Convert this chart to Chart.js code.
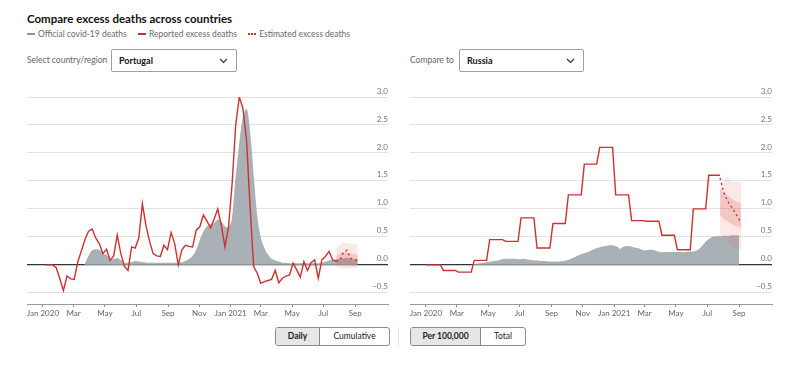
<!DOCTYPE html>
<html>
<head>
<meta charset="utf-8">
<script src="https://cdn.jsdelivr.net/npm/chart.js@4.4.1/dist/chart.umd.min.js"></script>
<style>
  body { margin: 0; background: #fff; font-family: Lato, "Noto Sans", sans-serif; color: #222; }
  #wrap { position: relative; width: 800px; height: 371px; overflow: hidden; }
  .abs { position: absolute; }
  #title { left: 27px; top: 12px; font-size: 11.5px; font-weight: 700; color: #121212; }
  #legend { left: 27px; top: 29px; font-size: 8.5px; color: #6a6a6a; white-space: nowrap; }
  #legend span.key { display: inline-block; width: 8px; height: 0; vertical-align: middle; margin: 0 3px 2px 0; }
  #legend span.item { margin-right: 9px; }
  .lbl { font-size: 8.5px; color: #666; }
  .select { height: 21px; border: 1px solid #a0a0a0; border-radius: 2px; background: #fff;
            font-size: 9px; font-weight: 700; color: #111; line-height: 21px; padding-left: 7px; box-sizing: content-box; }
  .select svg { position: absolute; right: 8px; top: 8px; }
  .btns { top: 327px; height: 17px; display: flex; border: 1px solid #8a8a8a; border-radius: 3px; overflow: hidden; font-size: 8.5px; }
  .btns div { line-height: 17px; text-align: center; color: #222; }
  .btns .on { background: #e6e6e6; font-weight: 700; border-right: 1px solid #8a8a8a; }
  canvas { position: absolute; }
</style>
</head>
<body>
<div id="wrap">
  <div id="title" class="abs">Compare excess deaths across countries</div>
  <div id="legend" class="abs">
    <span class="item"><span class="key" style="border-top:2px solid #8e979c"></span>Official covid-19 deaths</span>
    <span class="item"><span class="key" style="border-top:2px solid #d0302f"></span>Reported excess deaths</span>
    <span class="item"><span class="key" style="border-top:2px dotted #d0302f"></span>Estimated excess deaths</span>
  </div>

  <div class="abs lbl" style="left:27px; top:55px;">Select country/region</div>
  <div class="abs select" style="left:111px; top:49px; width:117px;">Portugal
    <svg width="9" height="6"><polyline points="1,1 4.5,4.5 8,1" fill="none" stroke="#333" stroke-width="1.2"/></svg>
  </div>
  <div class="abs lbl" style="left:410px; top:55px;">Compare to</div>
  <div class="abs select" style="left:459px; top:49px; width:116px;">Russia
    <svg width="9" height="6"><polyline points="1,1 4.5,4.5 8,1" fill="none" stroke="#333" stroke-width="1.2"/></svg>
  </div>

  <canvas id="left-chart" width="400" height="244" style="left:0; top:80px;"></canvas>
  <canvas id="right-chart" width="400" height="244" style="left:400px; top:80px;"></canvas>

  <div class="abs btns" style="left:275px; width:113px;">
    <div class="on" style="width:43px;">Daily</div><div style="flex:1;">Cumulative</div>
  </div>
  <div class="abs" style="left:398px; top:327px; width:1px; height:19px; background:#e4e4e4;"></div>
  <div class="abs btns" style="left:410px; width:114px;">
    <div class="on" style="width:69px;">Per 100,000</div><div style="flex:1;">Total</div>
  </div>
</div>

<script>
(function () {
    "use strict";

    // axis ticks
    const X_TICK_DATES = ["2020-01-01", "2020-03-01", "2020-05-01", "2020-07-01", "2020-09-01", "2020-11-01",
        "2021-01-01", "2021-03-01", "2021-05-01", "2021-07-01", "2021-09-01"];
    const X_TICK_LABELS = ["Jan 2020", "Mar", "May", "Jul", "Sep", "Nov", "Jan 2021", "Mar", "May", "Jul", "Sep"];
    const Y_TICKS = [-0.5, 0, 0.5, 1, 1.5, 2, 2.5, 3];

    // Portugal, weekly, per 100,000 (week 0 starts day 5)
    const PT_START_DAY = 5;
    const PT_REPORTED = [0, 0, 0, -0.05, -0.25, -0.46, -0.2, -0.25, -0.26, 0.05,
        0.25, 0.45, 0.6, 0.64, 0.48, 0.38, 0.2, 0.28, 0.08, 0.16,
        0.53, 0.2, -0.03, -0.1, 0.32, 0.3, 0.48, 1.09, 0.7, 0.42,
        0.2, 0.16, 0.15, 0.35, 0.27, 0.58, 0.38, 0.0, 0.27, 0.35,
        0.33, 0.32, 0.62, 0.68, 0.89, 0.78, 0.66, 0.82, 1.0, 0.7,
        0.32, 0.68, 1.45, 2.5, 3.0, 2.8, 2.25, 1.05, -0.03, -0.15,
        -0.33, -0.3, -0.28, -0.26, -0.1, -0.32, -0.24, -0.2, -0.18, 0.03,
        -0.09, -0.22, 0.06, -0.1, 0.04, 0.09, -0.24, 0.09, 0.15, 0.24,
        0.09, 0.06];
    const PT_ESTIMATED_FROM = 81;
    const PT_ESTIMATED = [0.06, 0.08, 0.22, 0.26, 0.12, 0.09, 0.08];
    const PT_OUTER_HI = [0.3, 0.36, 0.4, 0.39, 0.38, 0.37, 0.36];
    const PT_OUTER_LO = [-0.03, -0.05, -0.06, -0.06, -0.06, -0.06, -0.06];
    const PT_INNER_HI = [0.16, 0.2, 0.24, 0.22, 0.2, 0.19, 0.18];
    const PT_INNER_LO = [0.02, 0.02, 0.03, 0.02, 0.01, 0.01, 0.01];
    const PT_OFFICIAL_FROM = 11;
    const PT_OFFICIAL = [0, 0.15, 0.25, 0.27, 0.26, 0.2, 0.17, 0.1, 0.1, 0.11,
        0.08, 0.03, 0.03, 0.04, 0.06, 0.05, 0.04, 0.03, 0.03, 0.03,
        0.03, 0.03, 0.03, 0.03, 0.03, 0.03, 0.03, 0.04, 0.06, 0.1,
        0.15, 0.25, 0.42, 0.58, 0.68, 0.72, 0.74, 0.8, 0.76, 0.68,
        0.66, 0.8, 1.5, 2.1, 2.6, 2.78, 2.3, 1.5, 0.8, 0.45,
        0.28, 0.17, 0.1, 0.07, 0.05, 0.03, 0.03, 0.02, 0.02, 0.02,
        0.02, 0.02, 0.02, 0.02, 0.02, 0.02, 0.03, 0.05, 0.07, 0.08,
        0.09, 0.1, 0.11, 0.12, 0.1, 0.09, 0.09];

    // Russia, monthly reported excess, weekly official (week 0 starts day 0)
    const RU_REPORTED_MONTHLY = [0, -0.1, -0.13, 0.08, 0.45, 0.42, 0.84, 0.3, 0.74, 1.25,
        1.8, 2.1, 1.25, 0.79, 0.78, 0.53, 0.27, 1.0, 1.6];
    const RU_REPORTED_END_DAY = 572;
    const RU_ESTIMATED_DAYS = [572, 579, 586, 593, 600, 607, 613];
    const RU_ESTIMATED = [1.55, 1.3, 1.15, 1.05, 0.95, 0.85, 0.75];
    const RU_OUTER_HI = [1.5, 1.48, 1.58, 1.5, 1.48, 1.48, 1.48];
    const RU_OUTER_LO = [0.55, 0.5, 0.42, 0.35, 0.3, 0.28, 0.28];
    const RU_INNER_HI = [1.35, 1.3, 1.25, 1.2, 1.15, 1.12, 1.1];
    const RU_INNER_LO = [0.88, 0.82, 0.78, 0.74, 0.7, 0.68, 0.66];
    const RU_OFFICIAL_FROM = 13;
    const RU_OFFICIAL = [0, 0.01, 0.02, 0.03, 0.04, 0.05, 0.06, 0.07, 0.09, 0.1,
        0.1, 0.1, 0.1, 0.09, 0.1, 0.09, 0.08, 0.07, 0.07, 0.06,
        0.06, 0.05, 0.05, 0.05, 0.05, 0.06, 0.07, 0.09, 0.12, 0.15,
        0.18, 0.2, 0.22, 0.25, 0.28, 0.3, 0.32, 0.33, 0.34, 0.34,
        0.32, 0.28, 0.32, 0.33, 0.32, 0.3, 0.29, 0.26, 0.25, 0.26,
        0.26, 0.24, 0.22, 0.22, 0.22, 0.22, 0.22, 0.22, 0.22, 0.22,
        0.23, 0.23, 0.24, 0.28, 0.35, 0.42, 0.47, 0.5, 0.5, 0.51,
        0.51, 0.51, 0.52, 0.52, 0.52];

    const RED = "#d0302f";
    const GREY = "#a9b1b6";
    const DAY0 = Date.UTC(2020, 0, 1);
    const dayOf = (s) => (Date.parse(s) - DAY0) / 864e5;
    const monthStart = (m) => (Date.UTC(2020, m, 1) - DAY0) / 864e5;

    const weekly = (vals, fromWeek, startDay) =>
        vals.map((v, i) => ({ x: startDay + 7 * (fromWeek + i), y: v }));
    const byDays = (days, vals) => vals.map((v, i) => ({ x: days[i], y: v }));

    function monthlySteps(vals, endDay) {
        const pts = [];
        vals.forEach((v, m) => {
            const a = m === 0 ? 0 : monthStart(m) + 3;
            const b = m === vals.length - 1 ? endDay : monthStart(m + 1) - 3;
            pts.push({ x: a, y: v }, { x: b, y: v });
        });
        return pts;
    }

    const yLabels = {
        id: "yLabels",
        afterDraw(chart) {
            const { ctx, chartArea, scales } = chart;
            ctx.save();
            ctx.font = "8px Lato, 'Noto Sans', sans-serif";
            ctx.fillStyle = "#777";
            ctx.textAlign = "right";
            ctx.textBaseline = "bottom";
            Y_TICKS.forEach((v) => {
                const t = v < 0 ? "\u2212" + Math.abs(v).toFixed(1) : v.toFixed(1);
                ctx.fillText(t, chartArea.right, scales.y.getPixelForValue(v) - 2);
            });
            ctx.restore();
        },
    };

    function makeChart(id, padLeft, padRight, d) {
        const line = (data, extra) => Object.assign({
            data, pointRadius: 0, borderWidth: 0, fill: false, tension: 0,
        }, extra);
        new Chart(document.getElementById(id).getContext("2d"), {
            type: "line",
            data: {
                datasets: [
                    line(d.reported, { borderColor: RED, borderWidth: 1.4, order: 0 }),
                    line(d.estimated, { borderColor: RED, borderWidth: 1.4, borderDash: [2, 3], order: 1 }),
                    line(d.outerLo, { order: 3 }),
                    line(d.outerHi, { fill: 2, backgroundColor: "rgba(232, 110, 105, 0.16)", order: 3 }),
                    line(d.innerLo, { order: 2 }),
                    line(d.innerHi, { fill: 4, backgroundColor: "rgba(225, 80, 75, 0.22)", order: 2 }),
                    line(d.official, { fill: "origin", backgroundColor: GREY, borderColor: "#9ea7ac",
                        borderWidth: 0.8, tension: 0.3, order: 4 }),
                ],
            },
            options: {
                responsive: false,
                animation: false,
                layout: { padding: { left: padLeft, right: padRight, top: 17, bottom: 0 } },
                plugins: { legend: { display: false }, tooltip: { enabled: false } },
                scales: {
                    x: {
                        type: "linear",
                        min: -31,
                        max: 673,
                        afterBuildTicks: (s) => { s.ticks = X_TICK_DATES.map((t) => ({ value: dayOf(t) })); },
                        afterFit: (s) => { s.height = 20; },
                        ticks: {
                            autoSkip: false,
                            maxRotation: 0,
                            padding: 2,
                            color: "#666",
                            font: { family: "Lato, 'Noto Sans', sans-serif", size: 8 },
                            callback: (v) => X_TICK_LABELS[X_TICK_DATES.findIndex((t) => dayOf(t) === v)],
                        },
                        grid: { drawOnChartArea: false, drawTicks: true, tickLength: 3, color: "#888" },
                        border: { color: "#999", width: 1 },
                    },
                    y: {
                        position: "right",
                        min: -0.7,
                        max: 3.0,
                        afterBuildTicks: (s) => { s.ticks = Y_TICKS.map((v) => ({ value: v })); },
                        afterFit: (s) => { s.width = 0; },
                        ticks: { display: false },
                        grid: {
                            drawTicks: false,
                            color: (c) => (c.tick && c.tick.value === 0 ? "#333" : "#e2e2e2"),
                            lineWidth: (c) => (c.tick && c.tick.value === 0 ? 1.2 : 1),
                        },
                        border: { display: false },
                    },
                },
            },
            plugins: [yLabels],
        });
    }

    const ptDays = PT_ESTIMATED.map((v, i) => PT_START_DAY + 7 * (PT_ESTIMATED_FROM + i));
    makeChart("left-chart", 27, 12, {
        reported: weekly(PT_REPORTED, 0, PT_START_DAY),
        estimated: weekly(PT_ESTIMATED, PT_ESTIMATED_FROM, PT_START_DAY),
        outerLo: byDays(ptDays, PT_OUTER_LO),
        outerHi: byDays(ptDays, PT_OUTER_HI),
        innerLo: byDays(ptDays, PT_INNER_LO),
        innerHi: byDays(ptDays, PT_INNER_HI),
        official: weekly(PT_OFFICIAL, PT_OFFICIAL_FROM, PT_START_DAY),
    });

    makeChart("right-chart", 10, 28, {
        reported: monthlySteps(RU_REPORTED_MONTHLY, RU_REPORTED_END_DAY),
        estimated: byDays(RU_ESTIMATED_DAYS, RU_ESTIMATED),
        outerLo: byDays(RU_ESTIMATED_DAYS, RU_OUTER_LO),
        outerHi: byDays(RU_ESTIMATED_DAYS, RU_OUTER_HI),
        innerLo: byDays(RU_ESTIMATED_DAYS, RU_INNER_LO),
        innerHi: byDays(RU_ESTIMATED_DAYS, RU_INNER_HI),
        official: weekly(RU_OFFICIAL, RU_OFFICIAL_FROM, 0),
    });
})();
</script>
</body>
</html>
